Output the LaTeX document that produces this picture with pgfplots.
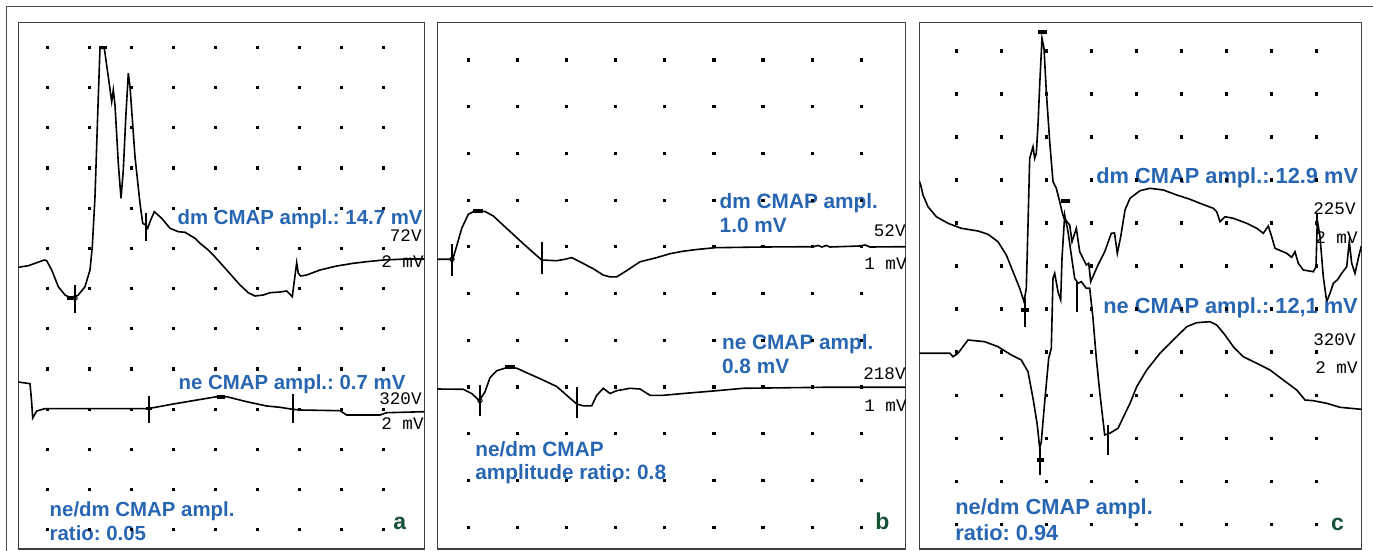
\documentclass[border=0pt]{standalone}
\usepackage{fontspec}
\setmainfont{Liberation Sans}
\newfontfamily\monofont{Liberation Mono}
\usepackage{pgfplots}
\pgfplotsset{compat=1.18}
\frenchspacing

\definecolor{lblblue}{RGB}{40,102,178}
\definecolor{lblgreen}{RGB}{22,82,56}

% coordinates are read in pixels of the 1373x551 original, 1 px = 0.5 pt
\pgfplotsset{
  panel/.style={scale only axis, y dir=reverse, anchor=south west,
    xtick=\empty, ytick=\empty,
    axis line style={black!75, line width=0.6pt}},
  trace/.style={black, line width=0.8pt, mark=none},
  cursor/.style={black, line width=1pt, mark=none},
  bar/.style={black, line width=1.8pt, mark=none},
  dots/.style={only marks, mark=square*, mark size=0.55pt, black},
  ring/.style={only marks, mark=o, mark size=1.1pt, black, mark options={fill=white, line width=0.5pt}},
}
\tikzset{
  mono/.style={anchor=base east, inner sep=0pt, font=\monofont\fontsize{8.8}{10}\selectfont},
  lbl/.style={anchor=base west, inner sep=0pt, text=lblblue},
  tag/.style={anchor=base west, inner sep=0pt, text=lblgreen, font=\bfseries\fontsize{11.5}{13}\selectfont},
}

\begin{document}
\begin{tikzpicture}
\path[use as bounding box] (0,0) rectangle (686.5pt,275.5pt);
\draw[black!70, line width=0.6pt] (3.35pt,0) -- (3.35pt,272.15pt) -- (686.5pt,272.15pt);

% ---------------- panel a ----------------
\begin{axis}[panel, at={(9.15pt,1pt)}, width=203pt, height=263.25pt,
    xmin=18.3, xmax=424.3, ymin=22.5, ymax=549]
\pgfplotsinvokeforeach{47.3,87.5,127.7,167.9,208.1,248.3,288.5,328.7,368.9,409.1,449.3,489.5,529.7}{
  \addplot[dots] coordinates {(47.7,#1) (89.6,#1) (131.6,#1) (173.5,#1) (215.5,#1) (257.5,#1) (299.4,#1) (341.4,#1) (383.3,#1)};
}
% dm trace
\addplot[trace] coordinates {
  (18.3,267.3) (28.3,265.7) (44.3,260) (46.7,260.7) (51.7,270) (58.3,286.7) (65,295) (71.7,298.3)
  (78.3,295) (85,286.7) (90,270) (92.3,246.7) (95,196.7) (98.3,96.7) (100,48.3) (104.3,48.3)
  (108.3,76.7) (111.7,101.7) (113.3,90) (115,105) (118.3,163.3) (121,198.3) (123.3,170) (126,113.3)
  (128.3,73.3) (130,86.7) (135,156.7) (140,203.3) (142.7,223.3) (145.7,225) (147.7,228.3) (150,221.7)
  (154.3,211.7) (161.7,218.3) (170,228.3) (178.3,231.7) (185,232.3) (195,238.3) (200,243.3) (208.3,250)
  (213.3,255) (226.7,270) (240,285) (248.3,292.7) (255,296) (263.3,295) (270,292.7) (280,292)
  (286.7,291) (292.3,296.7) (294,283.3) (296.7,262.7) (298.3,273.3) (300.7,276) (306.7,275) (320,270)
  (336.7,266) (353.3,263.3) (366.7,261.7) (383.3,260) (406.7,259) (424.3,259)};
% ne trace
\addplot[trace] coordinates {
  (18.3,382) (30,383.7) (31.5,400) (32.7,418) (36.7,411) (45,408.6) (146.7,408.6) (150,408.3)
  (173.3,404) (200,399.5) (216.7,396.7) (226.7,396.7) (246.7,401.7) (266.7,406) (280,407.3) (292.7,409.3)
  (300,410) (340,410.7) (346.7,415) (380,415) (386.7,412.7) (424.3,411.7)};
% cursors
\addplot[bar] coordinates {(98.5,47.5) (106.5,47.5)};
\addplot[cursor] coordinates {(75,285) (75,313)};
\addplot[bar] coordinates {(67,298) (73,298)};
\addplot[ring] coordinates {(75,298)};
\addplot[cursor] coordinates {(146,213) (146,241)};
\addplot[cursor] coordinates {(148.7,396) (148.7,423)};
\addplot[bar] coordinates {(146,408.6) (152,408.6)};
\addplot[bar] coordinates {(216.7,396.7) (225,396.7)};
\addplot[cursor] coordinates {(292.7,394) (292.7,423)};
% texts
\begin{scope}[lbl/.append style={font=\bfseries\fontsize{10.2}{12}\selectfont}]
\node[lbl] at (axis cs:177.3,224.3) {dm CMAP ampl.: 14.7 mV};
\node[lbl] at (axis cs:178.3,389) {ne CMAP ampl.: 0.7 mV};
\node[lbl] at (axis cs:49.3,516.7) {ne/dm CMAP ampl.};
\node[lbl] at (axis cs:49.3,540) {ratio: 0.05};
\end{scope}
\node[mono] at (axis cs:422,242) {72V};
\node[mono] at (axis cs:424,268) {2 mV};
\node[mono] at (axis cs:422,404) {320V};
\node[mono] at (axis cs:424,430) {2 mV};
\node[tag] at (axis cs:393,529) {a};
\end{axis}

% ---------------- panel b ----------------
\begin{axis}[panel, at={(218.65pt,1pt)}, width=234pt, height=263.25pt,
    xmin=437.3, xmax=905.3, ymin=22.5, ymax=549]
\pgfplotsinvokeforeach{60,106.7,153.4,200.1,246.8,293.5,340.2,386.9,433.6,480.3,527}{
  \addplot[dots] coordinates {(468.3,#1) (517.4,#1) (566.5,#1) (615.6,#1) (664.7,#1) (713.8,#1) (762.9,#1) (812,#1) (861.1,#1)};
}
% dm trace
\addplot[trace] coordinates {
  (437.3,259.3) (452.7,259.3) (456.7,246) (461.7,228.4) (468.3,214.3) (475,210.8) (485,211.5) (493.3,216)
  (506.7,228.4) (520,240.7) (531.7,251.2) (541.7,260) (556.7,260.7) (565,259.3) (571.7,257.6) (580,261.8)
  (593.3,268.8) (603.3,275.1) (610,276.9) (616.7,276.9) (626.7,270.6) (640,261.8) (656.7,257.6) (670,253.7)
  (683.3,251.2) (696.7,249.5) (715,247.7) (763.3,247) (813.3,246.7) (818,245.5) (822,247) (826,245.5)
  (830,247) (860,246) (865,245) (870,247) (905.3,246.7)};
% ne trace
\addplot[trace] coordinates {
  (437.3,389) (463.3,389.3) (471.7,393.5) (479.3,400.6) (485,391.8) (490,377.7) (496.7,370.7) (508.3,367.2)
  (516.7,368.2) (530,374.2) (543.3,380.2) (556.7,386.5) (566.7,395.3) (576.7,404) (583.3,405.8) (591.7,405.8)
  (596.7,395.3) (603.3,388.3) (610,393.5) (616.7,390.7) (630,388.3) (640,389) (650,395.3) (663.3,395.3)
  (683.3,393.5) (716.7,390.7) (743.3,388.3) (830,387.2) (905.3,387.2)};
% cursors
\addplot[cursor] coordinates {(452,244) (452,276)};
\addplot[ring] coordinates {(452,259.3)};
\addplot[bar] coordinates {(473,211) (483,211)};
\addplot[cursor] coordinates {(541.7,242) (541.7,274)};
\addplot[cursor] coordinates {(480,385) (480,416)};
\addplot[ring] coordinates {(480,400.6)};
\addplot[bar] coordinates {(505,367) (515,367)};
\addplot[cursor] coordinates {(577.3,386.5) (577.3,418)};
% texts
\begin{scope}[lbl/.append style={font=\bfseries\fontsize{10.4}{12}\selectfont}]
\node[lbl] at (axis cs:719.3,209) {dm CMAP ampl.};
\node[lbl] at (axis cs:719.3,232.6) {1.0 mV};
\node[lbl] at (axis cs:721.7,349.6) {ne CMAP ampl.};
\node[lbl] at (axis cs:721.7,373) {0.8 mV};
\node[lbl] at (axis cs:475,456) {ne/dm CMAP};
\node[lbl] at (axis cs:475,479.6) {amplitude ratio: 0.8};
\end{scope}
\node[mono] at (axis cs:906,237) {52V};
\node[mono] at (axis cs:907,270) {1 mV};
\node[mono] at (axis cs:906,379.5) {218V};
\node[mono] at (axis cs:907,411) {1 mV};
\node[tag] at (axis cs:875,529) {b};
\end{axis}

% ---------------- panel c ----------------
\begin{axis}[panel, at={(459.65pt,1pt)}, width=221pt, height=263.25pt,
    xmin=919.3, xmax=1361.3, ymin=22.5, ymax=549]
\pgfplotsinvokeforeach{51,94,137,180,223,266,309,352,395,438,481,524}{
  \addplot[dots] coordinates {(956.3,#1) (1001.3,#1) (1046.3,#1) (1091.3,#1) (1136.3,#1) (1181.3,#1) (1226.3,#1) (1271.3,#1) (1316.3,#1)};
}
% dm trace
\addplot[trace] coordinates {
  (919.3,181) (920.7,185) (923,195) (928,206.7) (936.3,216.7) (948,223.3) (961.3,228.3) (978,231)
  (988,234.3) (998,241.7) (1006.3,255) (1013,271.7) (1019.7,288.3) (1024,301.7) (1026.3,288.3) (1028,225)
  (1029.7,158.3) (1033,146.7) (1034.7,158.3) (1036.3,153.3) (1038,125) (1039.7,85) (1042,38.3) (1044,48.3)
  (1046.3,91.7) (1049.7,141.7) (1053,181.7) (1056.3,188.3) (1059.7,201.7) (1062,211.7) (1064,218.3) (1069.7,225)
  (1072,241.7) (1076.3,228.3) (1079.7,251.7) (1083,258.3) (1086.3,265) (1088.7,263.3) (1090.7,281.7) (1098,265)
  (1104.7,251.7) (1111.3,233.3) (1114.5,233) (1117.3,253.3) (1120.7,236.7) (1125,210) (1130,198.3) (1140,190.7)
  (1150,188.3) (1163.3,190) (1176.7,195) (1190,199.3) (1200,203.3) (1213.3,208.3) (1216.7,211.7) (1220,221.7)
  (1225,216.7) (1233.3,218.3) (1246.7,223.3) (1256.7,228.3) (1263.3,233.3) (1268.3,226) (1271.7,236.7) (1275,248.3)
  (1286.7,253.3) (1291.7,257.3) (1295,251.7) (1298.3,263.3) (1303.3,270) (1313.3,271.7) (1316,266.7) (1317.3,220)
  (1320,236.7) (1323.3,276.7) (1326.7,301.7) (1330,293.3) (1333.3,283.3) (1337.3,280) (1341.7,273.3) (1346.7,266.7)
  (1349.3,241.7) (1351.7,263.3) (1355,273.3) (1358.3,258.3) (1361.3,246)};
% ne trace
\addplot[trace] coordinates {
  (919.3,353.3) (950,353.3) (953,356.7) (958,353.3) (968,340) (984.7,341.7) (998,346.7) (1011.3,355)
  (1021.3,360) (1028,371.7) (1033,398.3) (1037.3,425) (1039.7,448.3) (1041.3,441.7) (1044.7,401.7) (1048.7,358.3)
  (1051.3,348.3) (1053,278.3) (1054.7,273.3) (1058,291.7) (1060.7,300) (1062,258.3) (1064.7,215) (1068,231.7)
  (1071.3,255) (1074.7,278.3) (1078,283.3) (1081.3,281.7) (1086.3,288.3) (1089.7,288.3) (1093,318.3) (1096.3,358.3)
  (1099.7,391.7) (1104.7,435) (1109.7,433.3) (1118,428.3) (1130,403.3) (1136.7,386.7) (1146.7,370) (1160,353.3)
  (1173.3,340) (1186.7,326.7) (1196.7,322.7) (1210,321.7) (1216.7,325) (1225,335) (1233.3,346.7) (1243.3,356.7)
  (1256.7,363.3) (1270,370) (1283.3,380) (1296.7,390) (1305,400) (1313.3,400.7) (1326.7,403.3) (1340,407.3)
  (1361.3,409.3)};
% cursors
\addplot[bar] coordinates {(1038,32.3) (1047.3,32.3)};
\addplot[cursor] coordinates {(1025.3,298) (1025.3,327)};
\addplot[bar] coordinates {(1021,310) (1029,310)};
\addplot[cursor] coordinates {(1077.3,282) (1077.3,312)};
\addplot[bar] coordinates {(1060.7,201) (1069.7,201)};
\addplot[cursor] coordinates {(1040.3,448) (1040.3,475)};
\addplot[bar] coordinates {(1036.5,460) (1044,460)};
\addplot[cursor] coordinates {(1108,425) (1108,455)};
\addplot[cursor] coordinates {(1317,214) (1317,226)};
% texts
\begin{scope}[lbl/.append style={font=\bfseries\fontsize{10.9}{12}\selectfont}]
\node[lbl] at (axis cs:1096,183.4) {dm CMAP ampl.: 12.9 mV};
\node[lbl] at (axis cs:1103,313.8) {ne CMAP ampl.: 12,1 mV};
\node[lbl] at (axis cs:955,514.8) {ne/dm CMAP ampl.};
\node[lbl] at (axis cs:955,540.4) {ratio: 0.94};
\end{scope}
\node[mono] at (axis cs:1356,214) {225V};
\node[mono] at (axis cs:1358,244) {2 mV};
\node[mono] at (axis cs:1356,345) {320V};
\node[mono] at (axis cs:1358,373) {2 mV};
\node[tag] at (axis cs:1330.7,530.5) {c};
\end{axis}
\end{tikzpicture}
\end{document}
